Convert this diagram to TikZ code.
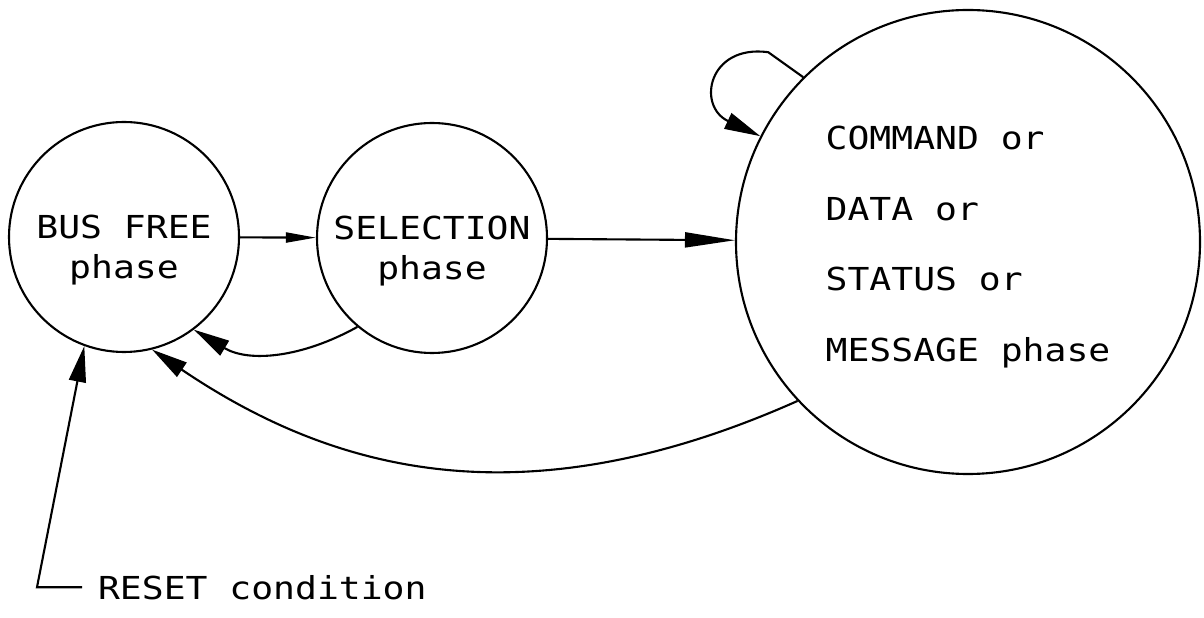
\documentclass[tikz,border=0pt]{standalone}
\usepackage{fontspec}
\newfontfamily\plotfont[FakeStretch=1.15]{DejaVu Sans Mono}
\usetikzlibrary{arrows.meta}

\begin{document}
\begin{tikzpicture}
[x=0.2mm,y=0.2mm,line width=1.2pt,
  statedecorate/.style={shape=circle,draw,inner sep=0pt,minimum size=#1},
  textdecorate/.style={font=\plotfont\fontsize{18}{22.8}\selectfont,align=center,inner sep=0pt},
  arrowdecorate/.style={-{Triangle[#1]}},
  arrowdecorate/.default={length=7.2mm,width=3.4mm}]
\useasboundingbox (0,0) rectangle (1204,617);
%% phases
\foreach \nodename/\x/\y/\phasetext in {
  busfree/124/380/{BUS FREE\\phase}, selection/432/379/{SELECTION\\phase}} {
  \node (\nodename) at (\x,\y) [statedecorate=46mm] {};
  \node (\nodename-text) at (\x,\y-13) [textdecorate] {\phasetext};
}
\node (transfer) at (968,375) [statedecorate=92.8mm] {};
\node (transfer-text) at (968,370) [textdecorate,align=left,
  font=\plotfont\fontsize{18}{40.2}\selectfont]
  {COMMAND or\\DATA or\\STATUS or\\MESSAGE phase};
\node (reset) at (82,18) [textdecorate,anchor=base west,inner xsep=3mm] {RESET condition};
%% transitions
\path
  (busfree) edge[arrowdecorate={length=6mm,width=2mm}] (selection)
  (selection) edge[arrowdecorate={length=10mm,width=3mm}] (transfer);
\draw[arrowdecorate] (selection.230) to[out=209,in=-31] (busfree.307);
\draw[arrowdecorate] (transfer.223) .. controls +(-274,-122) and +(182,-123) .. (busfree.284);
\draw[arrowdecorate] (transfer.135) -- ++(-35,25) .. controls +(-60,8) and +(-64,30) .. (transfer.153);
\draw[arrowdecorate] (reset.west) -- ++(-45,0) -- (busfree.250);
\end{tikzpicture}
\end{document}
